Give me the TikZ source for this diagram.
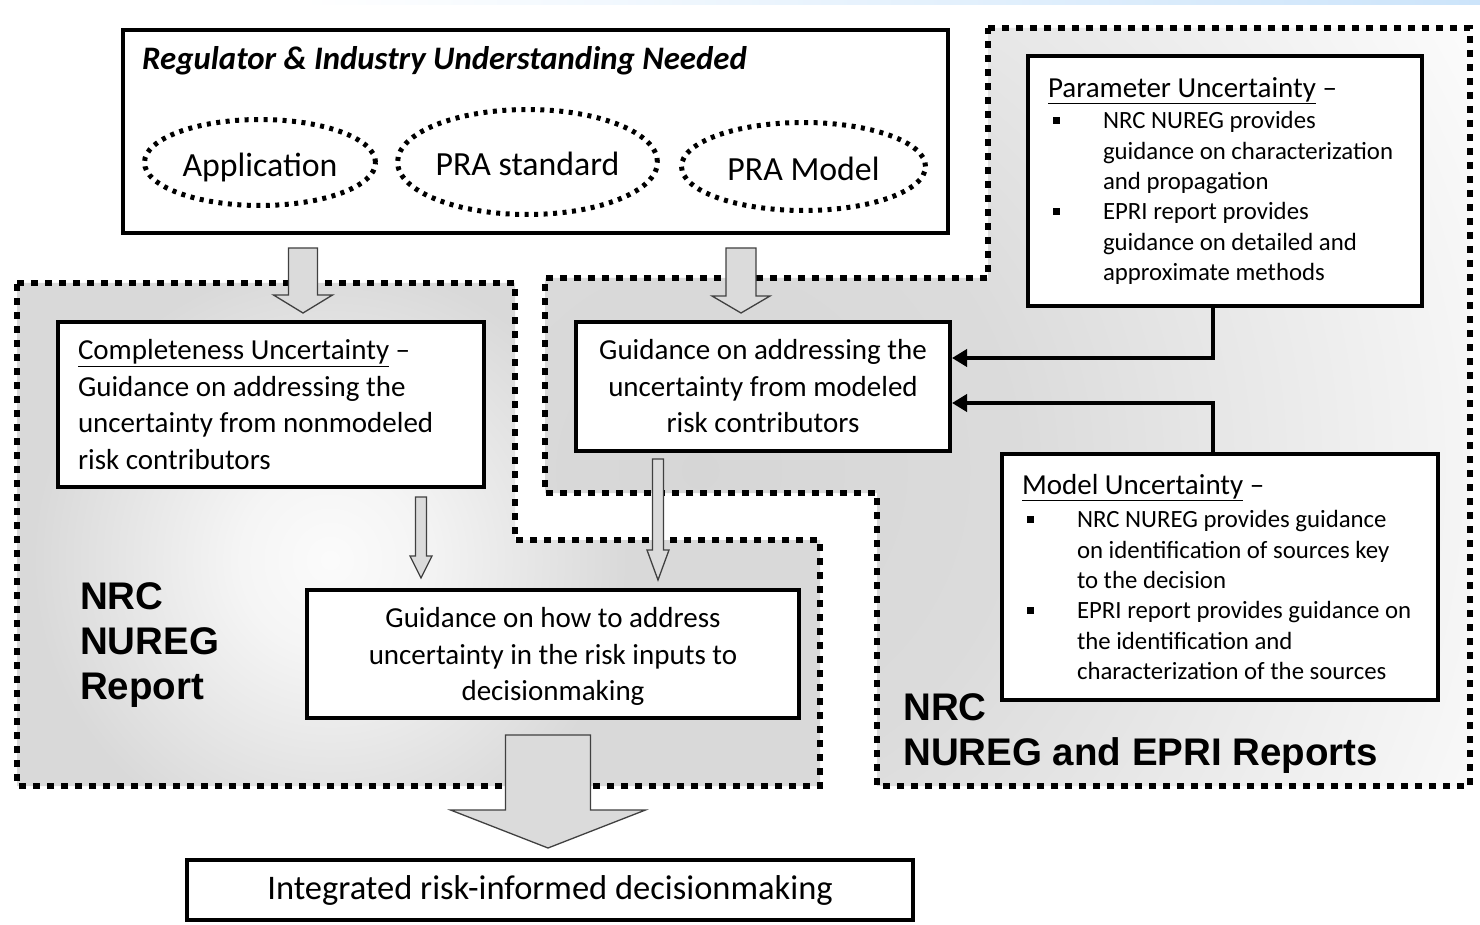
\documentclass[tikz,border=0pt]{standalone}
\usepackage{fontspec}
\setmainfont{Carlito}
\newfontfamily\arialfont{Liberation Sans}
\usetikzlibrary{arrows.meta,shapes.geometric,calc}
\pgfdeclareradialshading{lefthalo}{\pgfpoint{0bp}{0bp}}{color(0bp)=(gray!3); color(3.75bp)=(gray!8); color(12.5bp)=(gray!30); color(50bp)=(gray!30)}
\pgfdeclareradialshading{righthalo}{\pgfpoint{0bp}{0bp}}{color(0bp)=(gray!32); color(5bp)=(gray!28); color(14.8bp)=(white); color(50bp)=(white)}
\definecolor{bandblue}{RGB}{204,228,250}
\newcommand\mybody{\fontsize{29}{36.5}\selectfont}
\newcommand\myrbox{\fontsize{24.8}{30.3}\selectfont}
\newcommand\myoval{\fontsize{33.8}{40}\selectfont}
\newcommand\myint{\fontsize{34.5}{40}\selectfont}
\newcommand\mytitle{\fontsize{32.8}{38}\selectfont\bfseries\itshape}
\newcommand\mylab{\arialfont\bfseries\fontsize{38.5}{45}\selectfont}
\newcommand\myind{\hspace*{55pt}}
\newcommand\myblt{\makebox[55pt][l]{\hspace*{4.5pt}\rule[5pt]{7pt}{7pt}}}
\newcommand\blockarr[8]{%
 \draw[blockarrow] let \p1=(#1,0 |- #2.south), \p2=(#1,0 |- #3.north) in
 (\x1-#6,\y1-#4) -- (\x1+#6,\y1-#4) -- (\x1+#6,\y2+#5+#8) -- (\x1+#7,\y2+#5+#8)
 -- (\x1,\y2+#5) -- (\x1-#7,\y2+#5+#8) -- (\x1-#6,\y2+#5+#8) -- cycle;}
\tikzset{
 box/.style={draw, line width=4pt, fill=white, inner sep=0pt},
 oval/.style={ellipse, draw, line width=5pt, dash pattern=on 4pt off 5.5pt, inner sep=0pt, font=\myoval, text height=28pt, text depth=0pt},
 region/.style={line width=6.5pt, dash pattern=on 7pt off 7pt},
 blockarrow/.style={fill=gray!28, draw=black!75, line width=1.3pt, line join=miter},
 conn/.style={line width=4pt, -{Triangle[length=15pt,width=17pt]}, line join=miter}
}
\begin{document}
\begin{tikzpicture}[x=1pt,y=-1pt]
\useasboundingbox (0,0) rectangle (1480,925);
% top band
\shade[left color=white, right color=bandblue] (300,0) rectangle (1480,5);
% left region
\begin{scope}
\clip (17,283) -- (515,283) -- (515,540) -- (820,540) -- (820,786) -- (17,786) -- cycle;
\shade[shading=lefthalo] (330,560) circle (600);
\end{scope}
% right region
\begin{scope}
\clip (988,28) -- (1470,28) -- (1470,786) -- (877,786) -- (877,493) -- (545,493) -- (545,278) -- (988,278) -- cycle;
\shade[shading=righthalo] (700,470) circle (1600);
\end{scope}
\draw[region] (17,283) -- (515,283) -- (515,540) -- (820,540) -- (820,786) -- (17,786) -- cycle;
\draw[region] (988,28) -- (1470,28) -- (1470,786) -- (877,786) -- (877,493) -- (545,493) -- (545,278) -- (988,278) -- cycle;

% top box
\node[box, minimum width=825pt, minimum height=203pt] (top) at (535.5,131.5) {};
\node[anchor=base west, font=\mytitle, inner sep=0pt] (title) at (142,70) {Regulator \& Industry Understanding Needed};
\node[oval, minimum width=231pt, minimum height=86pt] (app) at (260,162.5) {Application};
\node[oval, minimum width=244pt, minimum height=105pt] (std) at (527.5,162) {PRA standard};
\node[oval, minimum width=244pt, minimum height=88pt] (mdl) at (803.5,166.5) {PRA Model};

% boxes
\node[box, minimum width=426pt, minimum height=165pt, text width=386pt, align=flush left, font=\mybody] (comp) at (271,404.5)
 {\underline{Completeness Uncertainty}~–\\Guidance on addressing the\\uncertainty from nonmodeled\\risk contributors};
\node[box, minimum width=374pt, minimum height=129pt, align=center, font=\mybody] (modeled) at (763,386.5)
 {Guidance on addressing the\\uncertainty from modeled\\risk contributors};
\node[box, minimum width=492pt, minimum height=128pt, align=center, font=\mybody, text depth=0pt] (guid) at (553,654)
 {Guidance on how to address\\uncertainty in the risk inputs to\\decisionmaking};
\node[box, minimum width=726pt, minimum height=60pt, font=\myint] (integ) at (550,890)
 {Integrated risk-informed decisionmaking};
\node[box, minimum width=394pt, minimum height=250pt, text width=354pt, align=flush left, font=\myrbox] (param) at (1225,181)
 {{\mybody\underline{Parameter Uncertainty}~–}\\[1pt]
  \mbox{\myblt NRC NUREG provides}\\
  \mbox{\myind guidance on characterization}\\
  \mbox{\myind and propagation}\\
  \mbox{\myblt EPRI report provides}\\
  \mbox{\myind guidance on detailed and}\\
  \mbox{\myind approximate methods}};
\node[box, minimum width=436pt, minimum height=246pt, text width=396pt, align=flush left, font=\myrbox] (model) at (1220,577)
 {{\mybody\underline{Model Uncertainty}~–}\\[3pt]
  \mbox{\myblt NRC NUREG provides guidance}\\
  \mbox{\myind on identification of sources key}\\
  \mbox{\myind to the decision}\\
  \mbox{\myblt EPRI report provides guidance on}\\
  \mbox{\myind the identification and}\\
  \mbox{\myind characterization of the sources}};

% labels
\node[anchor=west, align=left, font=\mylab, inner sep=0pt] (lab1) at (80,645) {NRC\\NUREG\\Report};
\node[anchor=west, align=left, font=\mylab, inner sep=0pt] (lab2) at (903,734) {NRC\\NUREG and EPRI Reports};

% block arrows
\blockarr{303}{top}{comp}{13pt}{7pt}{14.5pt}{29.5pt}{18pt}
\blockarr{741}{top}{modeled}{13pt}{7pt}{15pt}{29pt}{17pt}
\blockarr{421}{comp}{guid}{8pt}{10pt}{5.5pt}{11pt}{22pt}
\blockarr{658}{modeled}{guid}{6pt}{8pt}{5.5pt}{11pt}{30pt}
\blockarr{548}{guid}{integ}{15pt}{10pt}{42.5pt}{97.5pt}{38pt}

% connectors
\draw[conn] (1213,0 |- param.south) |- (modeled.east |- 0,358);
\draw[conn] (1213,0 |- model.north) |- (modeled.east |- 0,403);
\end{tikzpicture}
\end{document}
